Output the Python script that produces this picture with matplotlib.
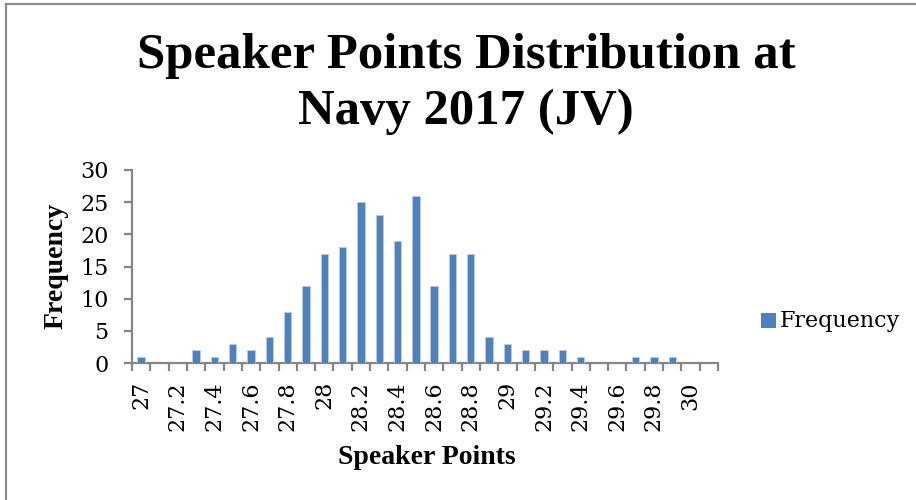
import matplotlib
matplotlib.use("Agg")
import matplotlib.pyplot as plt
from matplotlib.lines import Line2D
from matplotlib.patches import Rectangle
import numpy as np

categories = ["27", "27.1", "27.2", "27.3", "27.4", "27.5", "27.6", "27.7", "27.8", "27.9",
              "28", "28.1", "28.2", "28.3", "28.4", "28.5", "28.6", "28.7", "28.8", "28.9",
              "29", "29.1", "29.2", "29.3", "29.4", "29.5", "29.6", "29.7", "29.8", "29.9",
              "30", "More"]
frequency = [1, 0, 0, 2, 1, 3, 2, 4, 8, 12,
             17, 18, 25, 23, 19, 26, 12, 17, 17, 4,
             3, 2, 2, 2, 1, 0, 0, 1, 1, 1,
             0, 0]
yticks = [0, 5, 10, 15, 20, 25, 30]

title = "Speaker Points Distribution at\nNavy 2017 (JV)"
xlabel = "Speaker Points"
ylabel = "Frequency"
series_name = "Frequency"

BAR = "#4F81BD"
AX = "#868686"
W, H = 916, 500
fig = plt.figure(figsize=(W / 100, H / 100), dpi=100)
fig.patch.set_facecolor("white")

ax = fig.add_axes([132 / W, 1 - 363 / H, (718 - 132) / W, (363 - 170) / H])
x = np.arange(len(categories))
ax.bar(x, frequency, width=0.4, color=BAR, edgecolor="#B9CDE5", linewidth=0.6, zorder=3)

ax.set_xlim(-0.5, len(categories) - 0.5)
ax.set_ylim(0, 30)
for s in ("top", "right"):
    ax.spines[s].set_visible(False)
for s in ("left", "bottom"):
    ax.spines[s].set_color(AX)
    ax.spines[s].set_linewidth(1.6)

tick_font = dict(family="DejaVu Serif", size=16)
# x: major ticks at category boundaries (marks), minor at every other category (labels)
ax.set_xticks(np.arange(-0.5, len(categories), 1.0))
ax.set_xticklabels([])
lab_idx = list(range(0, len(categories), 2))
ax.set_xticks(lab_idx, minor=True)
ax.set_xticklabels([categories[i] for i in lab_idx], minor=True, rotation=90,
                   fontdict=tick_font, va="top", ha="center")
ax.tick_params(axis="x", which="major", length=6, width=1.6, color=AX, direction="out")
ax.tick_params(axis="x", which="minor", length=0, pad=13)

ax.set_yticks(yticks)
ax.set_yticklabels([str(v) for v in yticks], fontdict=tick_font)
ax.tick_params(axis="y", length=6, width=1.6, color=AX, direction="out", pad=11)

fig.text(466 / W, 1 - 84 / H, title, ha="center", va="center", family="Liberation Serif",
         weight="bold", fontsize=36.5, linespacing=1.3)
fig.text(427 / W, 1 - 457 / H, xlabel, ha="center", va="center", family="Liberation Serif",
         weight="bold", fontsize=20)
fig.text(56 / W, 1 - 266 / H, ylabel, ha="center", va="center", rotation=90,
         family="Liberation Serif", weight="bold", fontsize=20)

# legend
fig.patches.append(Rectangle((761 / W, 1 - 328 / H), 15 / W, 15 / H, transform=fig.transFigure,
                             facecolor=BAR, edgecolor="none"))
fig.text(780 / W, 1 - 321 / H, series_name, ha="left", va="center", family="DejaVu Serif",
         fontsize=16)

# chart frame (top and left edges visible)
fig.add_artist(Line2D([5.5 / W, 1], [1 - 3.5 / H, 1 - 3.5 / H], transform=fig.transFigure,
                      color="#8C8C8C", linewidth=1.6))
fig.add_artist(Line2D([5.5 / W, 5.5 / W], [0, 1 - 3.5 / H], transform=fig.transFigure,
                      color="#8C8C8C", linewidth=1.6))

fig.savefig("out.png", dpi=100, facecolor="white")
